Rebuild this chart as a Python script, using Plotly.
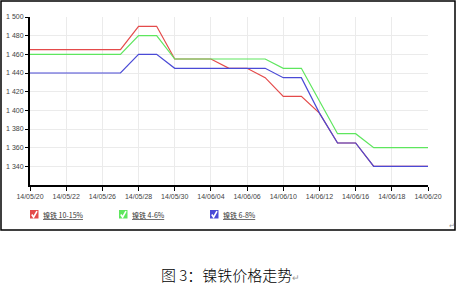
import plotly.graph_objects as go

# ---------------- data ----------------
dates = ["14/05/20", "14/05/21", "14/05/22", "14/05/23", "14/05/26", "14/05/27",
         "14/05/28", "14/05/29", "14/05/30", "14/06/03", "14/06/04", "14/06/05",
         "14/06/06", "14/06/09", "14/06/10", "14/06/11", "14/06/12", "14/06/13",
         "14/06/16", "14/06/17", "14/06/18", "14/06/19", "14/06/20"]
tick_dates = ["14/05/20", "14/05/22", "14/05/26", "14/05/28", "14/05/30", "14/06/04",
              "14/06/06", "14/06/10", "14/06/12", "14/06/16", "14/06/18", "14/06/20"]

red_10_15 = [1465, 1465, 1465, 1465, 1465, 1465, 1490, 1490, 1455, 1455, 1455, 1445,
             1445, 1435, 1415, 1415, 1397, 1365, 1365, 1340, 1340, 1340, 1340]
green_4_6 = [1460, 1460, 1460, 1460, 1460, 1460, 1480, 1480, 1455, 1455, 1455, 1455,
             1455, 1455, 1445, 1445, 1410, 1375, 1375, 1360, 1360, 1360, 1360]
blue_6_8 = [1440, 1440, 1440, 1440, 1440, 1440, 1460, 1460, 1445, 1445, 1445, 1445,
            1445, 1445, 1435, 1435, 1397, 1365, 1365, 1340, 1340, 1340, 1340]

series_names = ["镍铁 10-15%", "镍铁 4-6%", "镍铁 6-8%"]
y_ticks = [1340, 1360, 1380, 1400, 1420, 1440, 1460, 1480, 1500]
y_tick_text = ["1 340", "1 360", "1 380", "1 400", "1 420", "1 440", "1 460", "1 480", "1 500"]
caption = "图 3：镍铁价格走势"

# ---------------- layout helpers ----------------
L, R, T, B = 30, 428, 17, 185
W, H = R - L, B - T


def px(p):
    return (p - L) / W


def py(p):
    return (B - p) / H


colors = ["#e44a4a", "#5ee65e", "#4a4ad6"]
series = [red_10_15, green_4_6, blue_6_8]

fig = go.Figure()
for vals, col, name in zip(series, colors, series_names):
    fig.add_trace(go.Scatter(x=dates, y=vals, mode="lines", name=name,
                             line=dict(color=col, width=1.2), showlegend=False))

tick_font = dict(family="Liberation Sans", size=7, color="#444444")

fig.update_layout(
    width=458, height=286,
    margin=dict(l=L, r=458 - R, t=T, b=286 - B, autoexpand=False),
    paper_bgcolor="white", plot_bgcolor="white",
    xaxis=dict(type="category", categoryorder="array", categoryarray=dates,
               range=[0, len(dates) - 1], automargin=False,
               tickmode="array", tickvals=tick_dates, ticktext=tick_dates,
               showgrid=True, gridcolor="#ebebeb", gridwidth=1,
               showline=True, linecolor="black", linewidth=2,
               ticks="outside", ticklen=4, tickcolor="black", tickwidth=1,
               tickfont=tick_font, zeroline=False, fixedrange=True),
    yaxis=dict(range=[1320, 1500], tickmode="array", tickvals=y_ticks, ticktext=y_tick_text,
               automargin=False,
               showgrid=True, gridcolor="#ebebeb", gridwidth=1,
               showline=True, linecolor="black", linewidth=2,
               ticks="outside", ticklen=3, tickcolor="black", tickwidth=1,
               tickfont=tick_font, zeroline=False, fixedrange=True),
)

shapes = []
# outer frame
shapes.append(dict(type="rect", xref="paper", yref="paper",
                   x0=px(1), x1=px(455), y0=py(1), y1=py(230),
                   line=dict(color="black", width=1.5), fillcolor="rgba(0,0,0,0)", layer="above"))

annotations = []
legend_x = [30, 119, 210]
box_top, box_size = 210, 8.5
for lx, col, name in zip(legend_x, colors, series_names):
    shapes.append(dict(type="rect", xref="paper", yref="paper",
                       x0=px(lx), x1=px(lx + box_size), y0=py(box_top), y1=py(box_top + box_size),
                       line=dict(width=0), fillcolor=col))
    p = "M {} {} L {} {} L {} {}".format(
        px(lx + 1.8), py(box_top + 4.5),
        px(lx + 3.6), py(box_top + 7.2),
        px(lx + 7.0), py(box_top + 1.2))
    shapes.append(dict(type="path", xref="paper", yref="paper", path=p,
                       line=dict(color="white", width=1.6)))
    annotations.append(dict(xref="paper", yref="paper", x=px(lx + 11), y=py(box_top + 4.5),
                            xanchor="left", yanchor="middle", showarrow=False,
                            text="<u>" + name + "</u>",
                            font=dict(family="Noto Sans CJK SC", size=7, color="#333333")))

annotations.append(dict(xref="paper", yref="paper", x=px(159), y=py(274),
                        xanchor="left", yanchor="middle", showarrow=False,
                        text=caption + "<span style='font-size:9px;color:#999999'>↵</span>",
                        font=dict(family="Noto Sans CJK SC", size=15, color="black", weight=300)))
annotations.append(dict(xref="paper", yref="paper", x=px(457), y=py(225),
                        xanchor="right", yanchor="middle", showarrow=False,
                        text="↵", font=dict(family="Noto Sans CJK SC", size=7, color="#999999")))

fig.update_layout(shapes=shapes, annotations=annotations)
fig.write_html("out.html")
